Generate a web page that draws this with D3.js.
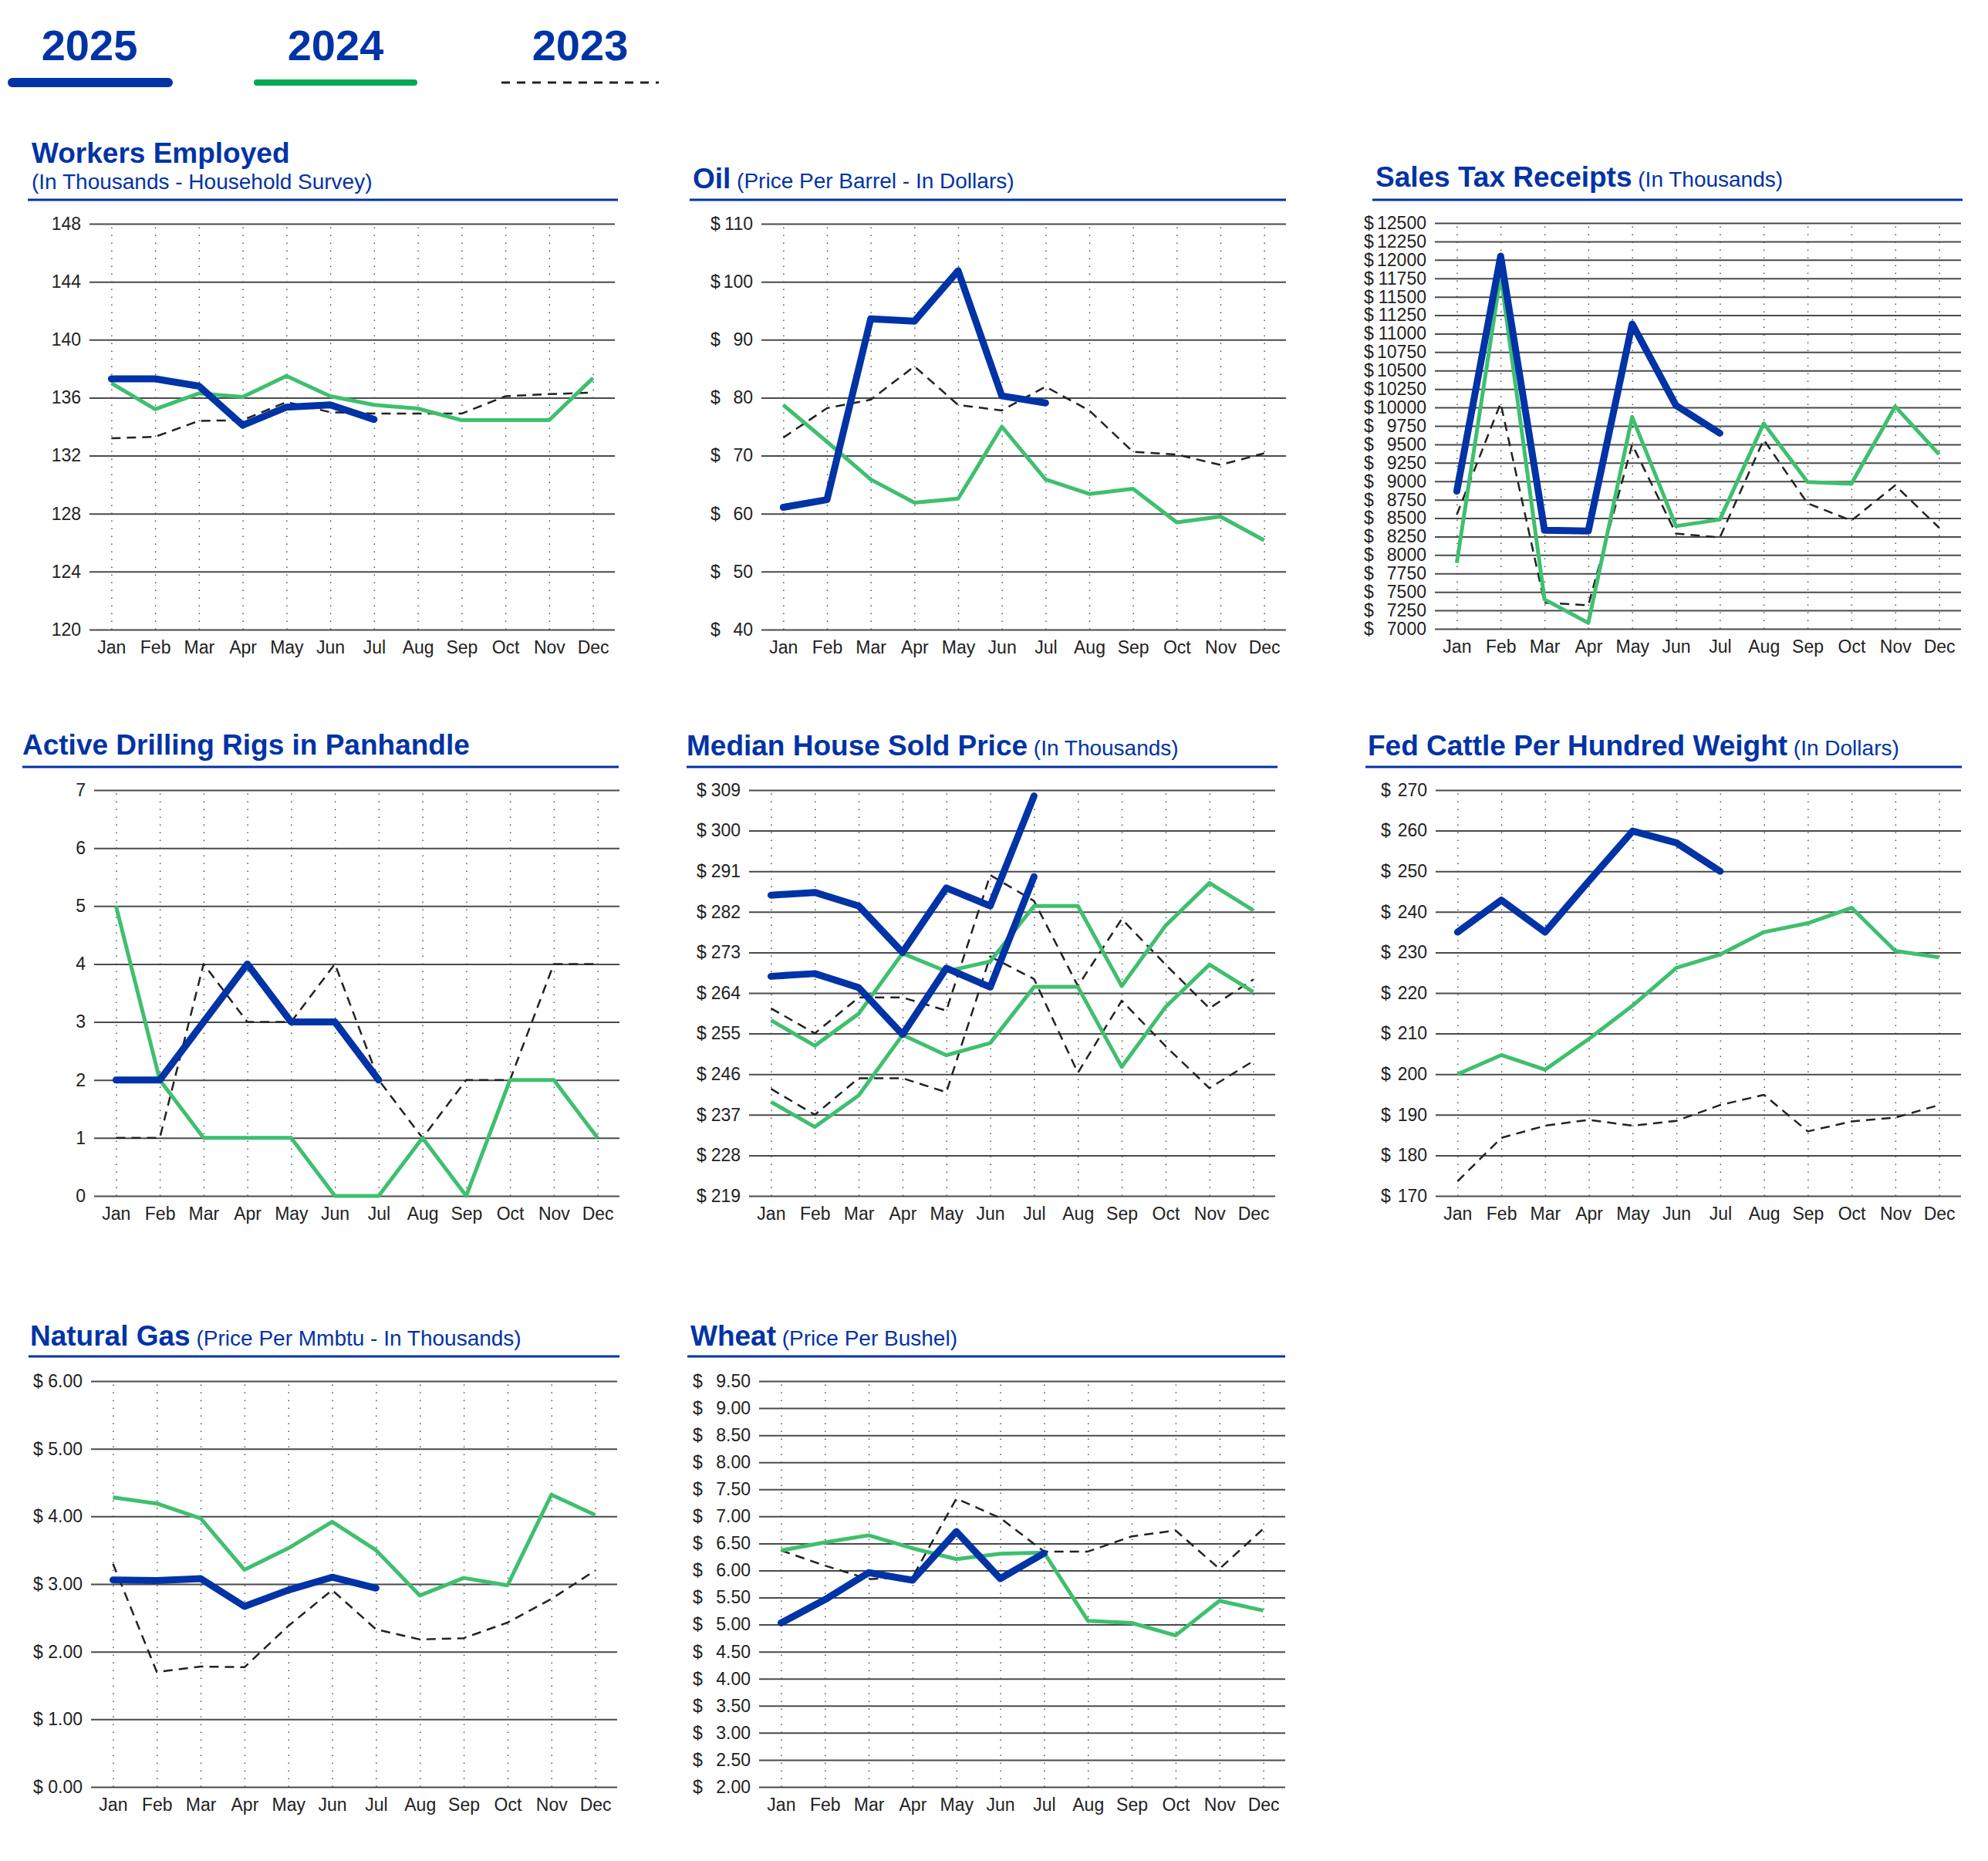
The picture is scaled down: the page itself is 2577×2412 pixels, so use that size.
<!DOCTYPE html>
<html>
<head>
<meta charset="utf-8">
<script src="https://cdn.jsdelivr.net/npm/d3@7"></script>
<style>
  body { margin: 0; background: #fff; }
  svg { display: block; font-family: "Liberation Sans", Arial, sans-serif; }
</style>
</head>
<body>
<div id="chart"></div>
<script>
// months on every x axis
var months = ["Jan","Feb","Mar","Apr","May","Jun","Jul","Aug","Sep","Oct","Nov","Dec"];
var years = ["2025","2024","2023"];

// Workers Employed
var workersTicks = [120,124,128,132,136,140,144,148];
var workers2025 = [137.3,137.3,136.8,134.1,135.35,135.5,134.5];
var workers2024 = [137.0,135.2,136.3,136.05,137.5,136.1,135.5,135.25,134.45,134.45,134.45,137.35];
var workers2023 = [133.2,133.3,134.4,134.45,135.7,135.0,134.9,134.9,134.9,136.1,136.25,136.35];

// Oil
var oilTicks = [40,50,60,70,80,90,100,110];
var oil2025 = [61.1,62.4,93.6,93.2,101.9,80.3,79.1];
var oil2024 = [78.75,72.4,65.9,61.9,62.6,75.0,65.9,63.4,64.3,58.5,59.5,55.4];
var oil2023 = [73.1,78.2,79.65,85.4,78.75,77.8,81.9,77.8,70.65,70.2,68.4,70.4];

// Sales Tax Receipts
var salesTicks = [7000,7250,7500,7750,8000,8250,8500,8750,9000,9250,9500,9750,10000,10250,10500,10750,11000,11250,11500,11750,12000,12250,12500];
var sales2025 = [8865,12050,8335,8326,11131,10027,9651];
var sales2024 = [7893,11793,7399,7080,9872,8392,8481,9784,8989,8966,10013,9364];
var sales2023 = [8547,10057,7354,7319,9496,8291,8238,9563,8701,8467,8944,8370];

// Active Drilling Rigs
var rigsTicks = [0,1,2,3,4,5,6,7];
var rigs2025 = [2,2,3,4,3,3,2];
var rigs2024 = [5,2,1,1,1,0,0,1,0,2,2,1];
var rigs2023 = [1,1,4,3,3,4,2,1,2,2,4,4];

// Median House Sold Price (each year appears twice in the source)
var houseTicks = [219,228,237,246,255,264,273,282,291,300,309];
var house2025a = [285.7,286.3,283.3,273.0,287.3,283.3,307.7];
var house2025b = [267.7,268.3,265.2,254.8,269.5,265.3,289.8];
var house2024a = [257.95,252.3,259.4,272.8,268.8,271.0,283.3,283.3,265.55,278.95,288.4,282.35];
var house2024b = [239.85,234.3,241.3,254.7,250.2,252.9,265.35,265.35,247.6,260.9,270.3,264.25];
var house2023a = [260.6,255.05,263.0,263.0,260.1,290.15,284.4,265.55,280.4,270.3,260.6,267.0];
var house2023b = [242.75,237.0,245.1,245.1,242.0,272.1,267.1,246.3,262.3,252.2,242.9,248.9];

// Fed Cattle
var cattleTicks = [170,180,190,200,210,220,230,240,250,260,270];
var cattle2025 = [235.0,242.9,235.0,247.6,259.9,257.0,250.0];
var cattle2024 = [200.0,204.7,201.1,208.7,216.9,226.2,229.5,235.0,237.2,241.0,230.35,228.8];
var cattle2023 = [173.6,184.3,187.3,188.75,187.3,188.5,192.4,194.9,185.9,188.35,189.3,192.4];

// Natural Gas
var gasTicks = [0,1,2,3,4,5,6];
var gas2025 = [3.06,3.05,3.08,2.67,2.91,3.10,2.94];
var gas2024 = [4.28,4.19,3.97,3.21,3.53,3.92,3.50,2.83,3.09,2.98,4.32,4.02];
var gas2023 = [3.30,1.70,1.78,1.77,2.38,2.91,2.33,2.18,2.20,2.43,2.78,3.20];

// Wheat
var wheatTicks = [2.0,2.5,3.0,3.5,4.0,4.5,5.0,5.5,6.0,6.5,7.0,7.5,8.0,8.5,9.0,9.5];
var wheat2025 = [5.03,5.46,5.96,5.82,6.72,5.85,6.32];
var wheat2024 = [6.37,6.52,6.65,6.41,6.21,6.31,6.33,5.07,5.03,4.80,5.44,5.26];
var wheat2023 = [6.37,6.09,5.84,5.88,7.33,6.97,6.35,6.35,6.63,6.74,6.03,6.77];

var BLUE = "#0033a6", GREEN = "#3fbf6f", LEGEND_GREEN = "#00a84f", DARK = "#222";
var FONT = "'Liberation Sans', Arial, sans-serif";

var svg = d3.select("#chart").append("svg")
    .attr("width", 2577)
    .attr("height", 2412);

// legend at top
var legend = [
  {label: years[0], cx: 116, x0: 16, x1: 218, color: BLUE, w: 12, dash: null},
  {label: years[1], cx: 435, x0: 333, x1: 537, color: LEGEND_GREEN, w: 8, dash: null},
  {label: years[2], cx: 752, x0: 650, x1: 854, color: DARK, w: 3, dash: "11,9"}
];
legend.forEach(function(l) {
  svg.append("text")
    .attr("x", l.cx).attr("y", 78)
    .attr("text-anchor", "middle")
    .attr("font-size", 56).attr("font-weight", 700)
    .attr("fill", BLUE)
    .text(l.label);
  svg.append("line")
    .attr("x1", l.x0).attr("x2", l.x1)
    .attr("y1", 107).attr("y2", 107)
    .attr("stroke", l.color).attr("stroke-width", l.w)
    .attr("stroke-linecap", l.dash ? "butt" : "round")
    .attr("stroke-dasharray", l.dash);
});

function series(v23, v24, v25) {
  return [{vals: v23, year: "2023"}, {vals: v24, year: "2024"}, {vals: v25, year: "2025"}];
}

var panels = [
  {title: "Workers Employed", sub: "(In Thousands - Household Survey)", subY: 245,
   tx: 41, ty: 211, ul: [36, 801, 259], x0: 116, x1: 797, y0: 290, y1: 816,
   ticks: workersTicks, fmt: d3.format("d"), dollar: null,
   lines: series(workers2023, workers2024, workers2025)},
  {title: "Oil", sub: "(Price Per Barrel - In Dollars)",
   tx: 898, ty: 244, ul: [894, 1667, 259], x0: 987, x1: 1667, y0: 290, y1: 816,
   ticks: oilTicks, fmt: d3.format("d"), dollar: -66,
   lines: series(oil2023, oil2024, oil2025)},
  {title: "Sales Tax Receipts", sub: "(In Thousands)",
   tx: 1783, ty: 242, ul: [1779, 2544, 259], x0: 1860, x1: 2542, y0: 289, y1: 815,
   ticks: salesTicks, fmt: d3.format("d"), dollar: -92,
   lines: series(sales2023, sales2024, sales2025)},
  {title: "Active Drilling Rigs in Panhandle", sub: null,
   tx: 29, ty: 978, ul: [29, 802, 994], x0: 122, x1: 803, y0: 1024, y1: 1550,
   ticks: rigsTicks, fmt: d3.format("d"), dollar: null,
   lines: series(rigs2023, rigs2024, rigs2025)},
  {title: "Median House Sold Price", sub: "(In Thousands)",
   tx: 890, ty: 979, ul: [890, 1656, 994], x0: 971, x1: 1653, y0: 1024, y1: 1550,
   ticks: houseTicks, fmt: d3.format("d"), dollar: -68,
   lines: [{vals: house2023a, year: "2023"}, {vals: house2023b, year: "2023"},
           {vals: house2024a, year: "2024"}, {vals: house2024b, year: "2024"},
           {vals: house2025a, year: "2025"}, {vals: house2025b, year: "2025"}]},
  {title: "Fed Cattle Per Hundred Weight", sub: "(In Dollars)",
   tx: 1773, ty: 979, ul: [1770, 2543, 994], x0: 1861, x1: 2542, y0: 1024, y1: 1550,
   ticks: cattleTicks, fmt: d3.format("d"), dollar: -71,
   lines: series(cattle2023, cattle2024, cattle2025)},
  {title: "Natural Gas", sub: "(Price Per Mmbtu - In Thousands)",
   tx: 39, ty: 1744, ul: [37, 803, 1758], x0: 118, x1: 800, y0: 1790, y1: 2316,
   ticks: gasTicks, fmt: d3.format(".2f"), dollar: -75,
   lines: series(gas2023, gas2024, gas2025)},
  {title: "Wheat", sub: "(Price Per Bushel)",
   tx: 895, ty: 1744, ul: [891, 1666, 1758], x0: 984, x1: 1666, y0: 1790, y1: 2316,
   ticks: wheatTicks, fmt: d3.format(".2f"), dollar: -86,
   lines: series(wheat2023, wheat2024, wheat2025)}
];

var styles = {
  "2023": {stroke: DARK, width: 2.5, dash: "12,8"},
  "2024": {stroke: GREEN, width: 5, dash: null},
  "2025": {stroke: BLUE, width: 9, dash: null}
};

panels.forEach(drawPanel);

function drawPanel(p) {
  var g = svg.append("g");

  // title + subtitle
  var t = g.append("text").attr("x", p.tx).attr("y", p.ty).attr("fill", BLUE);
  t.append("tspan").attr("font-size", 37).attr("font-weight", 700).text(p.title);
  if (p.sub && !p.subY) {
    t.append("tspan").attr("font-size", 28).attr("font-weight", 400).text(" " + p.sub);
  }
  if (p.sub && p.subY) {
    g.append("text").attr("x", p.tx).attr("y", p.subY)
      .attr("fill", BLUE).attr("font-size", 28).text(p.sub);
  }
  g.append("line")
    .attr("x1", p.ul[0]).attr("x2", p.ul[1])
    .attr("y1", p.ul[2]).attr("y2", p.ul[2])
    .attr("stroke", BLUE).attr("stroke-width", 3);

  var x = d3.scalePoint().domain(months).range([p.x0, p.x1]).padding(0.5);
  var y = d3.scaleLinear()
      .domain([p.ticks[0], p.ticks[p.ticks.length - 1]])
      .range([p.y1, p.y0]);

  // dotted month guides
  var vg = g.append("g")
      .attr("transform", "translate(0," + p.y1 + ")")
      .call(d3.axisBottom(x).tickSize(-(p.y1 - p.y0)).tickFormat(""));
  vg.select(".domain").remove();
  vg.selectAll("line")
    .attr("stroke", "#444").attr("stroke-width", 1.4)
    .attr("stroke-dasharray", "1.5,8.5");

  // horizontal grid + y labels
  var ya = g.append("g")
      .attr("transform", "translate(" + p.x0 + ",0)")
      .call(d3.axisLeft(y).tickValues(p.ticks).tickSize(-(p.x1 - p.x0)).tickPadding(11).tickFormat(p.fmt))
      .attr("font-size", 23)
      .attr("font-family", FONT);
  ya.select(".domain").remove();
  ya.selectAll(".tick line").attr("stroke", "#4a4a4a").attr("stroke-width", 2);
  ya.selectAll(".tick text").attr("fill", DARK);
  if (p.dollar != null) {
    ya.selectAll(".tick").append("text")
      .attr("x", p.dollar).attr("dy", "0.32em")
      .attr("text-anchor", "start")
      .attr("fill", DARK)
      .text("$");
  }

  // month labels
  var xa = g.append("g")
      .attr("transform", "translate(0," + p.y1 + ")")
      .call(d3.axisBottom(x).tickSize(0).tickPadding(15))
      .attr("font-size", 23)
      .attr("font-family", FONT);
  xa.select(".domain").remove();
  xa.selectAll(".tick text").attr("fill", DARK);

  // data lines
  var line = d3.line()
      .x(function(d, i) { return x(months[i]); })
      .y(function(d) { return y(d); });

  p.lines.forEach(function(s) {
    var st = styles[s.year];
    g.append("path")
      .datum(s.vals)
      .attr("d", line)
      .attr("fill", "none")
      .attr("stroke", st.stroke)
      .attr("stroke-width", st.width)
      .attr("stroke-dasharray", st.dash)
      .attr("stroke-linejoin", "round")
      .attr("stroke-linecap", s.year == "2025" ? "round" : "butt");
  });
}
</script>
</body>
</html>
